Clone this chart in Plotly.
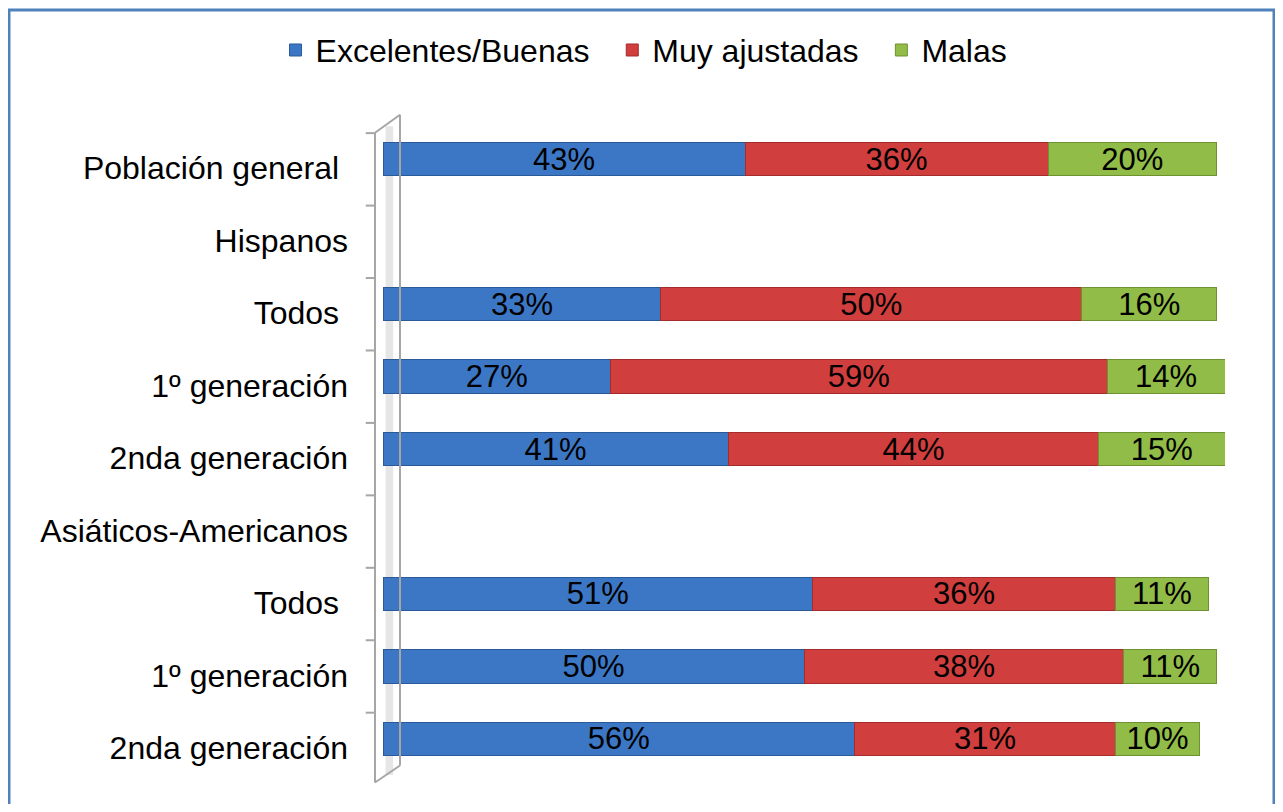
import plotly.graph_objects as go

categories = ["Población general\u00a0", "Hispanos", "Todos\u00a0", "1º generación", "2nda generación",
              "Asiáticos-Americanos", "Todos\u00a0", "1º generación", "2nda generación"]
series_names = ["Excelentes/Buenas", "Muy ajustadas", "Malas"]
excelentes = [43, None, 33, 27, 41, None, 51, 50, 56]
ajustadas = [36, None, 50, 59, 44, None, 36, 38, 31]
malas = [20, None, 16, 14, 15, None, 11, 11, 10]

colors = ["#3C77C6", "#D13E3E", "#92BC48"]
edge = ["#2B5A99", "#A52C2C", "#6E9232"]
FONT = "Liberation Sans, Arial, sans-serif"

positions = list(range(len(categories)))

fig = go.Figure()
for k, (name, vals, c, e) in enumerate(zip(series_names, [excelentes, ajustadas, malas], colors, edge)):
    pad = "\u00a0\u00a0" if k < len(series_names) - 1 else ""
    fig.add_trace(go.Bar(
        name=name + pad, y=positions, x=vals, orientation="h",
        marker=dict(color=c, line=dict(color=e, width=1)),
        width=0.46,
        texttemplate="%{x}%", textposition="inside", insidetextanchor="middle",
        textfont=dict(family=FONT, size=31, color="black"),
        constraintext="none", cliponaxis=False,
    ))

shapes = []
# outer frame
shapes.append(dict(type="rect", xref="paper", yref="paper", x0=-0.4442, x1=1.0582, y0=-0.1, y1=1.1733,
                   line=dict(color="#4F81BD", width=3), layer="below"))
# 3D wall lines
wall = dict(color="#A6A6A6", width=2)
shapes += [
    dict(type="rect", xref="paper", yref="paper", x0=0.003, x1=0.012, y0=0.0, y1=0.995,
         fillcolor="rgba(200,200,200,0.45)", line=dict(width=0), layer="below"),
    dict(type="line", xref="paper", yref="paper", x0=-0.0095, x1=-0.0095, y0=0.985, y1=-0.0115, line=wall),
    dict(type="line", xref="paper", yref="paper", x0=0.0202, x1=0.0202, y0=1.0127, y1=0.0145, line=wall),
    dict(type="line", xref="paper", yref="paper", x0=-0.0095, x1=0.0202, y0=0.985, y1=1.0127, line=wall),
    dict(type="line", xref="paper", yref="paper", x0=-0.0095, x1=0.0202, y0=-0.0115, y1=0.0145, line=wall),
]
for i in range(len(categories) + 1):
    yv = i - 0.5 + 0.14
    shapes.append(dict(type="line", xref="paper", yref="y", x0=-0.0205, x1=-0.0095, y0=yv, y1=yv, line=wall))

fig.update_layout(
    barmode="stack",
    width=1267, height=796,
    margin=dict(l=375, r=50, t=115, b=29),
    paper_bgcolor="white", plot_bgcolor="white",
    font=dict(family=FONT, size=32, color="black"),
    xaxis=dict(range=[0, 100], visible=False, fixedrange=True),
    yaxis=dict(range=[len(categories) - 0.5, -0.5], tickvals=positions, ticktext=categories,
               showline=False, showgrid=False, zeroline=False, ticks="",
               ticklabelstandoff=34, ticklabelshift=-9,
               tickfont=dict(family=FONT, size=32, color="black")),
    legend=dict(orientation="h", xref="container", yref="container", x=0.502, y=0.947,
                xanchor="center", yanchor="middle", font=dict(family=FONT, size=32, color="black"),
                traceorder="normal", itemwidth=30),
    shapes=shapes,
    showlegend=True,
)

fig.write_html("out.html")
